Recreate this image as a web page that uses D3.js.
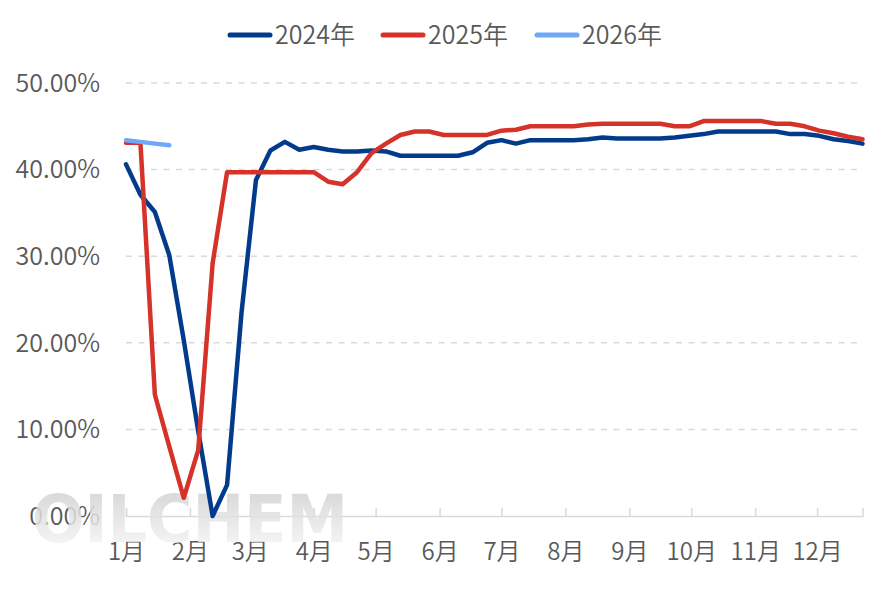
<!DOCTYPE html>
<html>
<head>
<meta charset="utf-8">
<script src="https://cdn.jsdelivr.net/npm/d3@7"></script>
<style>
  html, body { margin: 0; padding: 0; background: #fff; }
  text { font-family: "Noto Sans CJK SC", "Noto Sans", sans-serif; font-weight: 350; fill: #595959; }
</style>
</head>
<body>
<div id="chart"></div>
<script>
// weekly values, % (week 0 = Jan 1)
var series2024 = [40.6, 37.1, 35.1, 30.1, 20.3, 9.8, 0.0, 3.6, 23.5, 38.8,
    42.2, 43.2, 42.3, 42.6, 42.3, 42.1, 42.1, 42.2, 42.1, 41.6,
    41.6, 41.6, 41.6, 41.6, 42.0, 43.1, 43.4, 43.0, 43.4, 43.4,
    43.4, 43.4, 43.5, 43.7, 43.6, 43.6, 43.6, 43.6, 43.7, 43.9,
    44.1, 44.4, 44.4, 44.4, 44.4, 44.4, 44.1, 44.1, 43.9, 43.5,
    43.3, 43.0]
var series2025 = [43.1, 43.1, 14.0, 8.0, 2.1, 7.6, 29.2, 39.7, 39.7, 39.7,
    39.7, 39.7, 39.7, 39.7, 38.6, 38.3, 39.7, 41.9, 43.0, 44.0,
    44.4, 44.4, 44.0, 44.0, 44.0, 44.0, 44.5, 44.6, 45.0, 45.0,
    45.0, 45.0, 45.2, 45.3, 45.3, 45.3, 45.3, 45.3, 45.0, 45.0,
    45.6, 45.6, 45.6, 45.6, 45.6, 45.3, 45.3, 45.0, 44.5, 44.2,
    43.8, 43.5]
var series2026 = [43.4, 43.2, 43.0, 42.8]

var seriesNames = ["2024年", "2025年", "2026年"]
var seriesColors = ["#033b8c", "#d5322a", "#6ea8f7"]
var yTicks = [0, 0.1, 0.2, 0.3, 0.4, 0.5]

var width = 886
var height = 590

var svg = d3.select("#chart")
    .append("svg")
    .attr("width", width)
    .attr("height", height)

svg.append("rect").attr("width", width).attr("height", height).attr("fill", "#fff")

var start = new Date(2024, 0, 1)
var end = d3.timeDay.offset(start, 7 * 51)

var x = d3.scaleTime().domain([start, end]).range([126, 862.5])
var y = d3.scaleLinear().domain([0, 0.5]).range([516, 83])

// grid
svg.append("g")
    .selectAll("line")
    .data(yTicks.filter((d) => d > 0))
    .enter()
    .append("line")
    .attr("x1", x.range()[0])
    .attr("x2", x.range()[1])
    .attr("y1", (d) => y(d))
    .attr("y2", (d) => y(d))
    .attr("stroke", "#d9d9d9")
    .attr("stroke-width", 1.5)
    .attr("stroke-dasharray", "6,6.5")

// y labels
svg.append("g")
    .selectAll("text")
    .data(yTicks)
    .enter()
    .append("text")
    .attr("x", 100)
    .attr("y", (d) => y(d))
    .attr("dy", "0.35em")
    .attr("text-anchor", "end")
    .style("font-size", "25px")
    .text((d) => d3.format(".2%")(d))

// x axis
var xAxis = d3.axisBottom(x)
    .ticks(d3.timeMonth.every(1))
    .tickSize(-8)
    .tickPadding(27)
    .tickFormat((d) => (d.getMonth() + 1) + "月")

var gx = svg.append("g")
    .attr("transform", "translate(0," + y(0) + ")")
    .call(xAxis)
gx.select(".domain").attr("stroke", "#d9d9d9").attr("stroke-width", 1.5)
gx.selectAll(".tick line").attr("stroke", "#d9d9d9").attr("stroke-width", 1.5)
gx.selectAll(".tick text")
    .attr("fill", "#595959")
    .style("font-size", "24px")
    .style("font-family", "'Noto Sans CJK SC', sans-serif")
    .style("font-weight", 350)

// watermark
var defs = svg.append("defs")
var grad = defs.append("linearGradient")
    .attr("id", "wm")
    .attr("x1", 0).attr("y1", 0).attr("x2", 0).attr("y2", 1)
grad.append("stop").attr("offset", "0%").attr("stop-color", "#cccccc")
grad.append("stop").attr("offset", "55%").attr("stop-color", "#e6e6e6")
grad.append("stop").attr("offset", "100%").attr("stop-color", "#fbfbfb")

svg.append("text")
    .attr("x", 32)
    .attr("y", 542)
    .attr("textLength", 316)
    .attr("lengthAdjust", "spacingAndGlyphs")
    .style("font-family", "'DejaVu Sans', sans-serif")
    .style("font-weight", "bold")
    .style("font-size", "66px")
    .style("fill", "url(#wm)")
    .style("opacity", 0.85)
    .text("OILCHEM")

// lines
var line = d3.line()
    .x((d, i) => x(d3.timeDay.offset(start, 7 * i)))
    .y((d) => y(d / 100))

var allSeries = [series2024, series2025, series2026]

svg.append("g")
    .selectAll("path")
    .data(allSeries)
    .enter()
    .append("path")
    .attr("d", (d) => line(d))
    .attr("fill", "none")
    .attr("stroke", (d, i) => seriesColors[i])
    .attr("stroke-width", 4.5)
    .attr("stroke-linejoin", "round")
    .attr("stroke-linecap", "round")

// legend
var legendX = [228, 381, 535]
var legend = svg.append("g")
    .selectAll("g")
    .data(seriesNames)
    .enter()
    .append("g")
    .attr("transform", (d, i) => "translate(" + legendX[i] + ",35)")

legend.append("line")
    .attr("x1", 2)
    .attr("x2", 42)
    .attr("stroke", (d, i) => seriesColors[i])
    .attr("stroke-width", 5)
    .attr("stroke-linecap", "round")

legend.append("text")
    .attr("x", 47)
    .attr("dy", "0.35em")
    .style("font-size", "25px")
    .text((d) => d)
</script>
</body>
</html>
